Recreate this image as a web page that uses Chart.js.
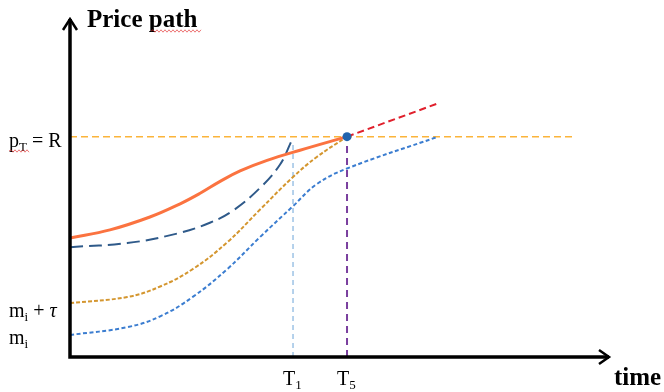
<!DOCTYPE html>
<html>
<head>
<meta charset="utf-8">
<script src="https://cdn.jsdelivr.net/npm/chart.js@4/dist/chart.umd.min.js"></script>
<style>
body{margin:0;background:#fff}
#wrap{width:664px;height:392px}
</style>
</head>
<body>
<div id="wrap"><canvas id="priceChart" width="664" height="392"></canvas></div>
<script>
// values, time and price both on a 0-100 scale
const priceR = 65;
const timeT1 = 41.3;
const timeT5 = 51.3;

// solid orange path (reaches R at T5)
const orangePath = [[0,35.1],[7.4,37.5],[14.8,41.3],[20.4,45.2],[24.1,48.3],[27.8,51.8],[31.5,54.9],[36.5,58.0],[42.6,61.0],[51.3,65]];
// dark blue long dashed path (reaches R near T1)
const darkBluePath = [[0,32.4],[10.6,33.6],[19.8,36.4],[25.9,39.6],[30.2,43.2],[35.2,49.9],[38.9,56.8],[41.1,64.0]];
// gold path starting at m_i + tau
const goldPath = [[0,15.9],[10.6,17.7],[16.7,20.8],[22.8,26.0],[29.1,33.8],[35.2,43.5],[41.3,53.1],[45.7,59.0],[51.3,65]];
// blue path starting at m_i
const bluePath = [[0,6.5],[10.6,8.8],[16.7,12.0],[22.8,17.8],[29.1,25.9],[35.2,35.4],[41.3,44.5],[45.7,51.0],[51.3,55.6],[68,64.9]];
// red continuation after T5
const redPath = [[51.3,65],[68.3,74.9]];
// horizontal line at R
const rLine = [[0,65],[93,65]];

// tick labels
const yTickValues = [65, 14.7, 6.8];
const yTickLabels = [
  [['p','n'],['T','s'],[' = R','n']],
  [['m','n'],['i','s'],[' + ','n'],['τ','i']],
  [['m','n'],['i','s']]
];
const xTickValues = [timeT1, timeT5];
const xTickLabels = [
  [['T','n'],['1','s']],
  [['T','n'],['5','s']]
];

function toPts(arr){ return arr.map(p => ({x:p[0], y:p[1]})); }

function drawParts(ctx, parts, x, yBase, size){
  parts.forEach(part => {
    let txt = part[0], st = part[1];
    let dy = 0;
    if (st == 's') { ctx.font = Math.round(size*0.65) + 'px "Liberation Serif"'; dy = 4; }
    else if (st == 'i') ctx.font = 'italic ' + size + 'px "Liberation Serif"';
    else ctx.font = size + 'px "Liberation Serif"';
    ctx.fillText(txt, x, yBase + dy);
    x += ctx.measureText(txt).width;
  });
}

function squiggle(ctx, x1, x2, y){
  ctx.save();
  ctx.strokeStyle = 'rgba(225,40,40,0.8)';
  ctx.lineWidth = 0.8;
  ctx.beginPath();
  let up = true;
  ctx.moveTo(x1, y);
  for (let x = x1 + 2; x <= x2; x += 2) { ctx.lineTo(x, up ? y - 1.2 : y + 1.2); up = !up; }
  ctx.stroke();
  ctx.restore();
}

const drawExtras = {
  id: 'drawExtras',
  afterDatasetsDraw(chart) {
    const {ctx, chartArea} = chart;
    const xs = chart.scales.x, ys = chart.scales.y;
    const x0 = chartArea.left, y0 = chartArea.bottom;
    ctx.save();
    ctx.strokeStyle = '#000';
    ctx.lineWidth = 3.5;
    ctx.beginPath();
    ctx.moveTo(x0, y0 + 1.75); ctx.lineTo(x0, chartArea.top + 1);
    ctx.moveTo(x0 - 1.75, y0); ctx.lineTo(chartArea.right - 1, y0);
    ctx.stroke();
    // arrow heads
    ctx.lineWidth = 2.5;
    ctx.beginPath();
    ctx.moveTo(x0 - 7, chartArea.top + 12); ctx.lineTo(x0, chartArea.top + 1); ctx.lineTo(x0 + 7, chartArea.top + 12);
    ctx.moveTo(chartArea.right - 11, y0 - 7); ctx.lineTo(chartArea.right - 1, y0); ctx.lineTo(chartArea.right - 11, y0 + 7);
    ctx.stroke();

    ctx.fillStyle = '#000';
    ctx.textBaseline = 'alphabetic';
    ctx.textAlign = 'left';
    ctx.font = 'bold 25px "Liberation Serif"';
    ctx.fillText('Price path', x0 + 17, 27);
    ctx.fillText('time', chartArea.right + 4, 385);

    yTickValues.forEach((v, i) => {
      drawParts(ctx, yTickLabels[i], 9, ys.getPixelForValue(v) + 10, 20);
    });
    xTickValues.forEach((v, i) => {
      drawParts(ctx, xTickLabels[i], xs.getPixelForValue(v) - 10, y0 + 28, 20);
    });
    ctx.restore();

    squiggle(ctx, 151, 201, 31);
    squiggle(ctx, 9, 29, 151);
  }
};

new Chart(document.getElementById('priceChart'), {
  type: 'line',
  data: {
    datasets: [
      {data: toPts([[timeT5, priceR]]), showLine: false, pointRadius: 4.5, pointBackgroundColor: '#2163ad', pointBorderWidth: 0, order: 0},
      {data: toPts(orangePath), borderColor: '#fb7340', borderWidth: 3, tension: 0.4, order: 1},
      {data: toPts(darkBluePath), borderColor: '#2f5a8a', borderWidth: 2, borderDash: [13, 6], tension: 0.4, order: 2},
      {data: toPts(goldPath), borderColor: '#d4962f', borderWidth: 2, borderDash: [4, 2], tension: 0.4, order: 3},
      {data: toPts(bluePath), borderColor: '#3b7dd0', borderWidth: 2, borderDash: [4, 2.5], tension: 0.4, order: 4},
      {data: toPts(redPath), borderColor: '#e0202c', borderWidth: 2, borderDash: [7, 4], order: 5},
      {data: toPts(rLine), borderColor: '#fbb43a', borderWidth: 1.5, borderDash: [7, 4], order: 6},
      {data: toPts([[timeT5, 0], [timeT5, priceR]]), borderColor: '#7a3f9e', borderWidth: 2, borderDash: [7, 5], order: 7},
      {data: toPts([[timeT1, 0], [timeT1, 63.1]]), borderColor: '#9dc3e6', borderWidth: 1.5, borderDash: [5, 4], order: 8}
    ]
  },
  options: {
    responsive: false,
    animation: false,
    clip: false,
    layout: {padding: {left: 70, right: 54, top: 18, bottom: 35}},
    elements: {point: {radius: 0}, line: {fill: false}},
    plugins: {legend: {display: false}, tooltip: {enabled: false}},
    scales: {
      x: {type: 'linear', min: 0, max: 100, display: false},
      y: {type: 'linear', min: 0, max: 100, display: false}
    }
  },
  plugins: [drawExtras]
});
</script>
</body>
</html>
